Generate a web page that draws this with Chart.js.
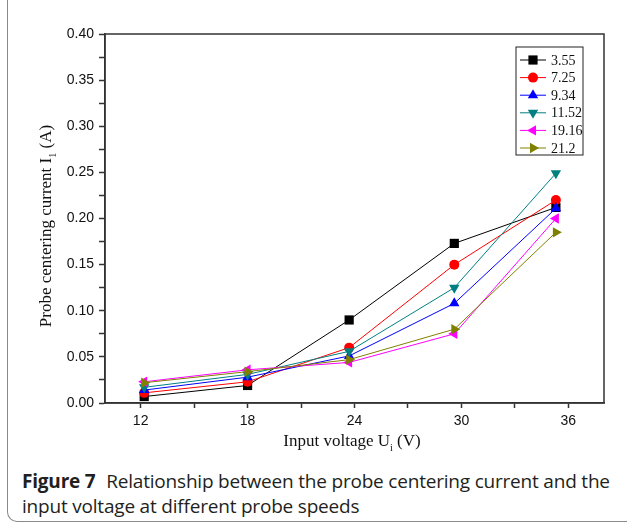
<!DOCTYPE html>
<html>
<head>
<meta charset="utf-8">
<script src="https://cdn.jsdelivr.net/npm/chart.js@4/dist/chart.umd.min.js"></script>
<style>
  body { margin: 0; width: 627px; height: 526px; background: #fff; overflow: hidden; position: relative; }
  #frame { position: absolute; left: 7px; top: -20px; width: 700px; height: 541px;
           border-left: 1.5px solid #8a8a8a; border-bottom: 1.5px solid #8a8a8a; border-bottom-left-radius: 10px; }
  #chartBox { position: absolute; left: 0; top: 0; width: 627px; height: 460px; }
  #caption { position: absolute; left: 22px; top: 469px; width: 598px; font-family: "Open Sans", sans-serif;
             font-size: 19px; line-height: 25px; color: #231f20; letter-spacing: -0.2px; }
  #caption b { font-weight: 700; margin-right: 6px; }
</style>
</head>
<body>
<div id="frame"></div>
<div id="chartBox"><canvas id="chart" width="627" height="460"></canvas></div>
<div id="caption"><b>Figure 7</b> Relationship between the probe centering current and the input voltage at different probe speeds</div>
<script>
// input voltage (V) where each point was measured
const voltages = [12.2, 18, 23.7, 29.6, 35.3];
// probe speeds (legend labels)
const speeds = ['3.55', '7.25', '9.34', '11.52', '19.16', '21.2'];
// probe centering current (A) per speed
const i355 = [0.007, 0.019, 0.090, 0.173, 0.212];
const i725 = [0.011, 0.023, 0.060, 0.150, 0.220];
const i934 = [0.014, 0.028, 0.051, 0.108, 0.211];
const i1152 = [0.017, 0.031, 0.056, 0.125, 0.249];
const i1916 = [0.023, 0.036, 0.044, 0.075, 0.200];
const i212 = [0.022, 0.034, 0.047, 0.080, 0.185];

const series = [i355, i725, i934, i1152, i1916, i212];
const colors = ['#000000', '#ff0000', '#0000ff', '#008080', '#ff00ff', '#808000'];
const styles = [
  { pointStyle: 'rect', radius: 6.5, rotation: 0 },
  { pointStyle: 'circle', radius: 5, rotation: 0 },
  { pointStyle: 'triangle', radius: 6, rotation: 0 },
  { pointStyle: 'triangle', radius: 6, rotation: 180 },
  { pointStyle: 'triangle', radius: 6, rotation: -90 },
  { pointStyle: 'triangle', radius: 6, rotation: 90 }
];

const datasets = series.map((vals, i) => ({
  label: speeds[i],
  data: vals.map((v, k) => ({ x: voltages[k], y: v })),
  borderColor: colors[i],
  backgroundColor: colors[i],
  borderWidth: 1,
  pointStyle: styles[i].pointStyle,
  pointRadius: styles[i].radius,
  pointRotation: styles[i].rotation,
  pointBorderWidth: 0,
  order: 5 - i
}));

function drawParts(ctx, parts, cx, cy, size) {
  let w = 0;
  parts.forEach(p => {
    ctx.font = (p.sub ? size * 0.6 : size) + 'px "Liberation Serif", serif';
    p.w = ctx.measureText(p.t).width;
    w += p.w;
  });
  let x = cx - w / 2;
  ctx.textBaseline = 'middle';
  ctx.textAlign = 'left';
  parts.forEach(p => {
    ctx.font = (p.sub ? size * 0.6 : size) + 'px "Liberation Serif", serif';
    ctx.fillText(p.t, x, p.sub ? cy + size * 0.35 : cy);
    x += p.w;
  });
}

const extras = {
  id: 'extras',
  afterDraw(chart) {
    const ctx = chart.ctx;
    const a = chart.chartArea;
    ctx.save();
    // axis frame
    ctx.strokeStyle = '#333';
    ctx.lineWidth = 1.5;
    ctx.strokeRect(a.left, a.top, a.right - a.left, a.bottom - a.top);

    // axis titles
    ctx.fillStyle = '#111';
    drawParts(ctx, [{ t: 'Input voltage U' }, { t: 'i', sub: true }, { t: ' (V)' }], 352, 442, 17);
    ctx.save();
    ctx.translate(47, 226);
    ctx.rotate(-Math.PI / 2);
    drawParts(ctx, [{ t: 'Probe centering current I' }, { t: '1', sub: true }, { t: ' (A)' }], 0, 0, 17);
    ctx.restore();

    // legend box
    const lx = a.right - 88, ly = a.top + 13;
    ctx.lineWidth = 1;
    ctx.strokeStyle = '#222';
    ctx.strokeRect(lx, ly, 67, 108);
    chart.data.datasets.forEach((ds, i) => {
      const y = ly + 13 + i * 17.6;
      ctx.strokeStyle = ds.borderColor;
      ctx.lineWidth = 1;
      ctx.beginPath();
      ctx.moveTo(lx + 4, y);
      ctx.lineTo(lx + 30, y);
      ctx.stroke();
      ctx.fillStyle = ds.backgroundColor;
      Chart.helpers.drawPoint(ctx, {
        pointStyle: ds.pointStyle, radius: ds.pointRadius, rotation: ds.pointRotation, borderWidth: 0
      }, lx + 17, y);
      ctx.fillStyle = '#111';
      ctx.font = '14px "Liberation Serif", serif';
      ctx.textAlign = 'left';
      ctx.textBaseline = 'middle';
      ctx.fillText(ds.label, lx + 35, y + 1);
    });
    ctx.restore();
  }
};

new Chart(document.getElementById('chart'), {
  type: 'line',
  data: { datasets: datasets },
  options: {
    responsive: false,
    animation: false,
    events: [],
    layout: { padding: { top: 34, right: 23, left: 0, bottom: 0 } },
    plugins: { legend: { display: false }, tooltip: { enabled: false } },
    scales: {
      x: {
        type: 'linear',
        min: 10,
        max: 38,
        afterFit: s => { s.height = 57; },
        afterBuildTicks: s => { s.ticks = s.ticks.filter(t => Math.abs(t.value % 3) < 1e-6); },
        border: { display: true, color: '#333', width: 1.5 },
        grid: { drawOnChartArea: false, tickLength: 5, tickColor: '#333', tickWidth: 1.5 },
        ticks: {
          stepSize: 3,
          autoSkip: false,
          maxRotation: 0,
          padding: 5,
          color: '#111',
          font: { family: '"Liberation Sans", Arial, sans-serif', size: 14 },
          callback: v => (v % 6 === 0 ? String(v) : '')
        }
      },
      y: {
        min: 0,
        max: 0.4,
        afterFit: s => { s.width = 105; },
        border: { display: true, color: '#333', width: 1.5 },
        grid: { drawOnChartArea: false, tickLength: 6, tickColor: '#333', tickWidth: 1.5 },
        ticks: {
          stepSize: 0.025,
          autoSkip: false,
          padding: 5,
          color: '#111',
          font: { family: '"Liberation Sans", Arial, sans-serif', size: 14 },
          callback: v => (Math.round(v * 1000) % 50 === 0 ? v.toFixed(2) : '')
        }
      }
    }
  },
  plugins: [extras]
});
</script>
</body>
</html>
